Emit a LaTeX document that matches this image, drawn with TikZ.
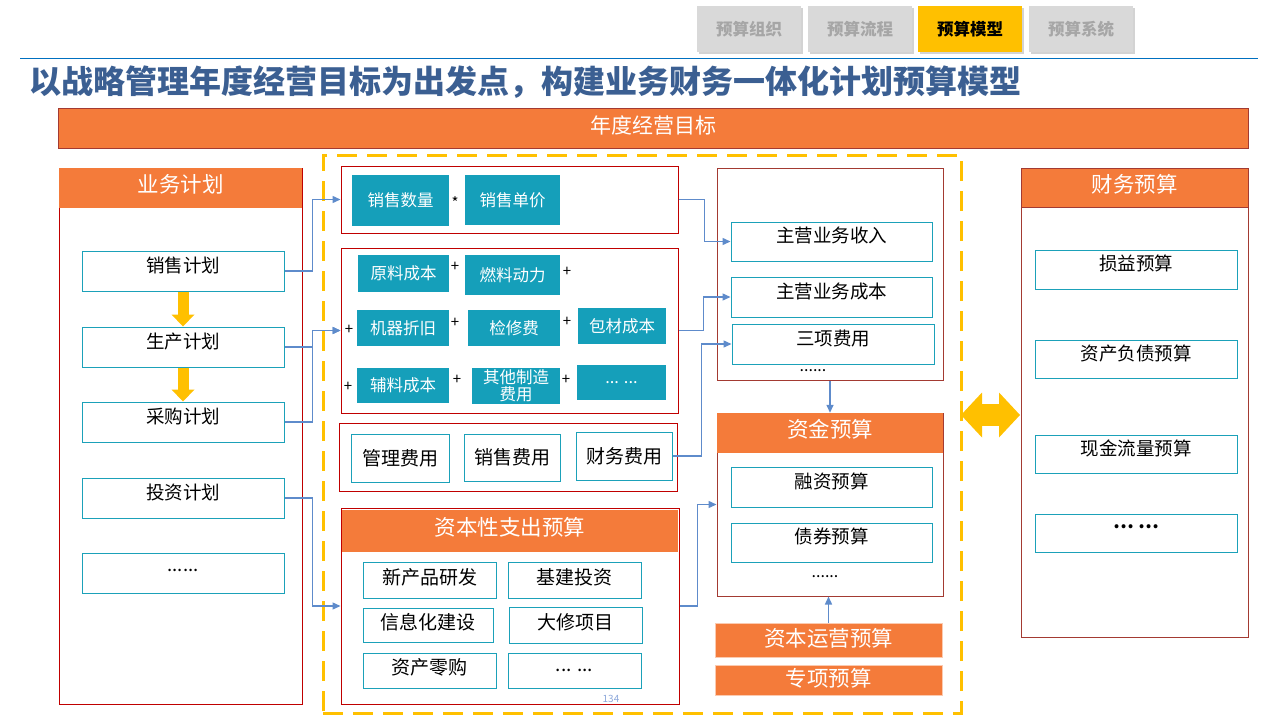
\documentclass[tikz,border=0pt]{standalone}
\usepackage{fontspec}
\setmainfont{Noto Sans CJK SC}
\usepackage{tikz}
\usetikzlibrary{arrows.meta, shadows}
\definecolor{tangerine}{HTML}{F47B3A}
\definecolor{brick}{HTML}{C00000}
\definecolor{rust}{HTML}{A33A32}
\definecolor{cyanline}{HTML}{1BA1B9}
\definecolor{tealfill}{HTML}{159FBA}
\definecolor{amber}{HTML}{FFC000}
\definecolor{steelblue}{HTML}{5E8BCB}
\definecolor{titleblue}{HTML}{3B5F92}
\definecolor{rulerblue}{HTML}{0070C0}
\definecolor{tabgray}{HTML}{D9D9D9}
\definecolor{tabtext}{HTML}{A6A6A6}
\definecolor{pageblue}{HTML}{8EA9DB}

\begin{document}
\begin{tikzpicture}[x=1pt, y=-1pt,
    tab/.style={fill=tabgray, minimum width=104pt, minimum height=46pt, inner sep=0pt,
      font=\bfseries\fontsize{16.5}{18}\selectfont, text=tabtext,
      drop shadow={opacity=0.35, shadow xshift=1.5pt, shadow yshift=-1.5pt}},
    tabon/.style={tab, fill=amber, text=black},
    banner/.style={fill=tangerine, draw=rust, line width=1pt, inner sep=0pt,
      text=white, font=\fontsize{21}{24}\selectfont, text depth=7pt},
    panel/.style={draw=brick, fill=white, line width=1pt, inner sep=0pt},
    panelrust/.style={panel, draw=rust},
    header/.style={fill=tangerine, inner sep=0pt, text=white,
      font=\fontsize{21.5}{24}\selectfont, text depth=9pt},
    item/.style={draw=cyanline, fill=white, line width=1pt, inner sep=0pt,
      font=\fontsize{18.5}{21}\selectfont, text depth=13pt},
    chip/.style={fill=tealfill, inner sep=0pt, align=center, text=white,
      font=\fontsize{16.5}{17}\selectfont},
    fee/.style={draw=cyanline, fill=white, line width=1pt, inner sep=0pt,
      font=\fontsize{19}{21}\selectfont},
    capitem/.style={fee, text depth=7pt},
    op/.style={inner sep=0pt, font=\fontsize{15}{15}\selectfont},
    dots/.style={inner sep=0pt, font=\fontsize{16}{16}\selectfont},
    flow/.style={-{Triangle[length=8pt, width=7pt]}, steelblue, line width=1.4pt},
    push/.style={-{Triangle[length=12pt, width=23pt, line width=0pt]}, amber, line width=11pt},
    bothway/.style={{Triangle[length=21pt, width=45pt, line width=0pt]}-{Triangle[length=21pt, width=45pt, line width=0pt]},
      amber, line width=22pt},
]
\useasboundingbox (0,0) rectangle (1280,720);

% tabs and title
\node[tab]   (tab_org)   at (749,29)  {预算组织};
\node[tab]   (tab_flow)  at (860,29)  {预算流程};
\node[tabon] (tab_model) at (970,29)  {预算模型};
\node[tab]   (tab_sys)   at (1081,29) {预算系统};
\draw[rulerblue, line width=1pt] (20,58) -- (1258,58);
\node[anchor=west, inner sep=0pt, text=titleblue, font=\bfseries\fontsize{32}{35}\selectfont]
    (title) at (29,82) {以战略管理年度经营目标为出发点，构建业务财务一体化计划预算模型};
\node[banner, minimum width=1190pt, minimum height=40pt] (goal) at (653,128) {年度经营目标};

% dashed frame
\node[draw=amber, line width=3pt, dash pattern=on 20pt off 10pt,
    minimum width=638pt, minimum height=558pt, inner sep=0pt] (core) at (642,434) {};

% business plans
\node[panel, minimum width=243pt, minimum height=536pt] (plancol) at (180.5,436) {};
\node[header, minimum width=243pt, minimum height=40pt] (planhead) at (180.5,188) {业务计划};
\node[item, minimum width=202pt, minimum height=40pt] (sales)    at (183,271)   {销售计划};
\node[item, minimum width=202pt, minimum height=40pt] (prod)     at (183,347)   {生产计划};
\node[item, minimum width=202pt, minimum height=40pt] (purch)    at (183,422)   {采购计划};
\node[item, minimum width=202pt, minimum height=40pt] (invest)   at (183,498)   {投资计划};
\node[item, minimum width=202pt, minimum height=40pt, text depth=7pt] (planmore) at (183,573.5) {......};
\draw[push] (sales.south) -- (prod.north);
\draw[push] (prod.south) -- (purch.north);

% revenue calc
\node[panel, minimum width=337pt, minimum height=67pt] (revcalc) at (509.5,199.5) {};
\node[chip, minimum width=97pt, minimum height=51pt] (qty)   at (400.5,200.5) {销售数量};
\node[op] (times) at (455,203) {*};
\node[chip, minimum width=95pt, minimum height=50pt] (price) at (512.5,200) {销售单价};

% manufacturing cost
\node[panel, minimum width=337pt, minimum height=165pt] (mfgcost) at (509.5,330.5) {};
\node[chip, minimum width=91pt, minimum height=37pt] (raw)      at (403.5,273.5) {原料成本};
\node[chip, minimum width=95pt, minimum height=40pt] (fuel)     at (512.5,275)   {燃料动力};
\node[chip, minimum width=92pt, minimum height=36pt] (depr)     at (403,328)     {机器折旧};
\node[chip, minimum width=92pt, minimum height=36pt] (repair)   at (514,328)     {检修费};
\node[chip, minimum width=88pt, minimum height=36pt] (pack)     at (622,326)     {包材成本};
\node[chip, minimum width=92pt, minimum height=35pt] (aux)      at (403,385.5)   {辅料成本};
\node[chip, minimum width=88pt, minimum height=36pt] (othermfg) at (516,386)     {其他制造\\费用};
\node[chip, minimum width=89pt, minimum height=35pt] (mfgmore)  at (621.5,382.5) {... ...};
\node[op] (plus1) at (455,267) {+};
\node[op] (plus2) at (567,272) {+};
\node[op] (plus3) at (349,330) {+};
\node[op] (plus4) at (455,323) {+};
\node[op] (plus5) at (567,322) {+};
\node[op] (plus6) at (348,387) {+};
\node[op] (plus7) at (457,380) {+};
\node[op] (plus8) at (566,380) {+};

% period fees
\node[panel, minimum width=338pt, minimum height=68pt] (periodfee) at (508,457) {};
\node[fee, minimum width=98pt, minimum height=48pt] (adminfee) at (400,458)   {管理费用};
\node[fee, minimum width=96pt, minimum height=47pt] (sellfee)  at (512,457.5) {销售费用};
\node[fee, minimum width=96pt, minimum height=48pt] (finfee)   at (624,456)   {财务费用};

% capex
\node[panel, minimum width=338pt, minimum height=196pt] (capex) at (510,606) {};
\node[header, minimum width=336pt, minimum height=42pt] (capexhead) at (510,531) {资本性支出预算};
\node[capitem, minimum width=133pt, minimum height=36pt] (newprod)   at (429.5,580)   {新产品研发};
\node[capitem, minimum width=133pt, minimum height=36pt] (infra)     at (574.5,580)   {基建投资};
\node[capitem, minimum width=130pt, minimum height=34pt] (infosys)   at (428,625)     {信息化建设};
\node[capitem, minimum width=133pt, minimum height=36pt] (overhaul)  at (575.5,625)   {大修项目};
\node[capitem, minimum width=133pt, minimum height=35pt] (assetbuy)  at (429.5,670.5) {资产零购};
\node[fee, minimum width=133pt, minimum height=35pt] (capexmore) at (574.5,670.5) {... ...};
\node[inner sep=0pt, text=pageblue, font=\fontsize{10}{10}\selectfont] (pagenum) at (611,699) {134};

% profit and loss items
\node[panelrust, minimum width=226pt, minimum height=212pt] (pnlbox) at (830,274) {};
\node[item, minimum width=201pt, minimum height=39pt] (revenue)  at (831.5,241.5) {主营业务收入};
\node[item, minimum width=201pt, minimum height=40pt] (cogs)     at (831.5,297)   {主营业务成本};
\node[item, minimum width=202pt, minimum height=40pt] (threefee) at (833,344)     {三项费用};
\node[dots] (pnldots) at (813,371) {......};

% funds
\node[panelrust, minimum width=226pt, minimum height=183pt] (fund) at (830,504.5) {};
\node[header, minimum width=226pt, minimum height=40pt] (fundhead) at (830,433) {资金预算};
\node[item, minimum width=201pt, minimum height=40pt] (financing) at (831.5,487)   {融资预算};
\node[item, minimum width=201pt, minimum height=39pt] (bonds)     at (831.5,542.5) {债券预算};
\node[dots] (funddots) at (825,577) {......};
\node[header, draw=tangerine!40, minimum width=227pt, minimum height=34pt, text depth=6pt] (capop) at (828.5,640) {资本运营预算};
\node[header, draw=tangerine!40, minimum width=227pt, minimum height=30pt, text depth=6pt] (special) at (828.5,680) {专项预算};

% financial budget
\node[panelrust, minimum width=227pt, minimum height=469pt] (finbud) at (1134.5,402.5) {};
\node[header, draw=rust, line width=1pt, minimum width=227pt, minimum height=39pt] (finhead) at (1134.5,187.5) {财务预算};
\node[item, minimum width=202pt, minimum height=39pt] (incomebud)  at (1136,269.5) {损益预算};
\node[item, minimum width=202pt, minimum height=38pt] (balancebud) at (1136,359)   {资产负债预算};
\node[item, minimum width=202pt, minimum height=38pt] (cashbud)    at (1136,454)   {现金流量预算};
\node[item, minimum width=202pt, minimum height=38pt, font=\bfseries\fontsize{18.5}{21}\selectfont] (finmore) at (1136,533) {… …};

% two-way link
\coordinate (bridge_l) at (961,415);
\coordinate (bridge_r) at (1020,415);
\draw[bothway] (bridge_l) -- (bridge_r);

% connectors
\draw[flow] (sales.east) -- ++(28,0) |- (revcalc.west);
\draw[flow] (prod.east) -- ++(28,0) |- (mfgcost.west);
\draw[flow] (purch.east) -- ++(28,0) |- (mfgcost.west);
\draw[flow] (invest.east) -- ++(28,0) |- (capex.west);
\draw[flow] (revcalc.east) -- ++(26,0) |- (revenue.west);
\draw[flow] (mfgcost.east) -- ++(25,0) |- (cogs.west);
\draw[flow] (finfee.east) -- ++(29,0) |- (threefee.west);
\draw[flow] (capex.east) -- ++(18,0) |- (fund.west);
\draw[flow] (pnlbox.south) -- (fundhead.north);
\draw[flow] (capop.north) -- (capop.north |- fund.south);
\end{tikzpicture}
\end{document}
